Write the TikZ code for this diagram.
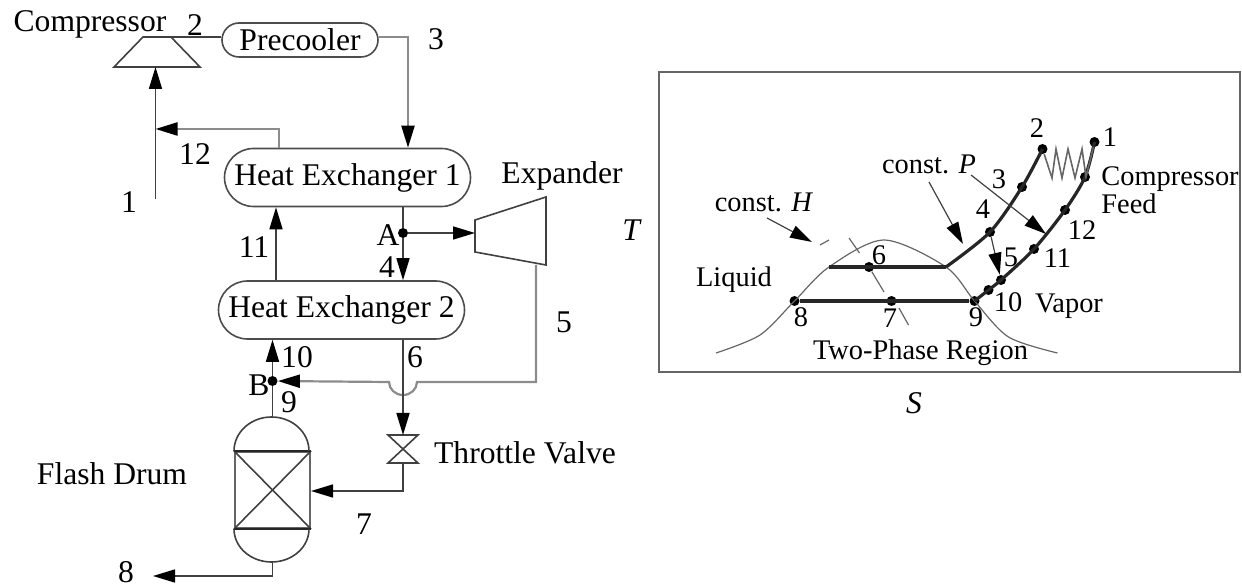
\documentclass[tikz,border=0pt]{standalone}
\usepackage{fontspec}
\setmainfont{Liberation Serif}
\usetikzlibrary{arrows.meta,shapes.misc}
\tikzstyle{hx state}=[
        draw = black!70,
        line width = .8pt,
        rounded rectangle,
        inner sep = 0pt,
        minimum width = 123pt,
        minimum height = 29pt
    ]
\tikzstyle{point state}=[
    fill = black,
    circle,
    inner sep = 0pt,
    minimum size = 5pt
]
\tikzstyle{flow}=[
    draw = black!75,
    line width = .8pt,
    -{Triangle[length=11pt,width=6.5pt,color=black,fill=black]}
]
\tikzstyle{pale flow}=[
    flow,
    draw = black!45,
    line width = 1.1pt
]

\begin{document}
\begin{tikzpicture}[x=.5pt, y=-.5pt,
        every node/.style = {font=\fontsize{15.8}{18}\selectfont, inner sep=0pt},
        line/.style = {draw=black!75, line width=.8pt},
        curve/.style = {draw=black!60, line width=.6pt},
        bold/.style = {draw=black!85, line width=1.6pt}]
        \useasboundingbox (0,0) rectangle (1242,587);

        % left: the plant
        \node[hx state, minimum width=78pt, minimum height=17pt] (pre) at (300,40) {Precooler};
        \node[hx state] (hx1) at (347.5,177.5) {Heat Exchanger 1};
        \node[hx state] (hx2) at (341.5,310) {Heat Exchanger 2};
        \node[draw=black!60, line width=1pt, minimum width=37.5pt, minimum height=38pt] (drum) at (272.5,490) {};
        \node[point state] (A) at (403,233) {};
        \node[point state] (B) at (272.5,381) {};

        \coordinate (cpin) at (155.5,67);
        \coordinate (cpout) at (171,37);
        \coordinate (feed) at (155.5,199);
        \coordinate (join) at (155.5,129);
        \coordinate (xpin) at (475,233);
        \coordinate (xpout) at (536,265);
        \coordinate (hump) at (417,382);
        \coordinate (vtop) at (403,435);
        \coordinate (vbot) at (403,463);
        \coordinate (out) at (153,576);

        \draw[line] (143,37) -- (cpout) -- (200,67) -- (114,67) -- cycle;
        \draw[line] (xpin) ++(0,-13) -- (546,197) -- (546,265) -- (475,252) -- cycle;
        \draw[line] (388,435) -- (418,435) -- (388,463) -- (418,463) -- cycle;
        \draw[line] (drum.north west) -- (drum.south east);
        \draw[line] (drum.north east) -- (drum.south west);
        \draw[bold, line width=1pt] (drum.north west) -- (drum.north east);
        \draw[bold, line width=1pt] (drum.south west) -- (drum.south east);
        \draw[line] (drum.north west) arc[start angle=180, end angle=0, x radius=18.75pt, y radius=17pt];
        \draw[line] (drum.south west) arc[start angle=180, end angle=360, x radius=18.75pt, y radius=16.5pt];

        \draw[line] (cpout) -- (cpout -| pre.west);
        \draw[pale flow] (pre.east |- cpout) -| (hx1.north -| 408,0);
        \draw[flow] (feed) -- (cpin);
        \draw[pale flow] (hx1.north -| 279,0) |- (join);
        \draw[flow] (hx2.north -| 276,0) -- (hx1.south -| 276,0);
        \draw[line] (hx1.south -| A) -- (A);
        \draw[flow] (A) -- (hx2.north -| A);
        \draw[flow] (A) -- (xpin);
        \draw[pale flow] (xpout) |- (hump) arc[start angle=0, end angle=-180, x radius=7pt, y radius=6.5pt] -- (B);
        \draw[flow] (hx2.south -| vtop) -- (vtop);
        \draw[flow] (vbot) |- (drum.east |- 0,491);
        \draw[line] (272.5,418) -- (B);
        \draw[flow] (B) -- (hx2.south -| B);
        \draw[flow] (272.5,561) |- (out);

        \node (compressor) at (90,24) {Compressor};
        \node (l2) at (195,25) {2};
        \node (l3) at (436,39) {3};
        \node (l12) at (195,154) {12};
        \node (l1) at (129,202) {1};
        \node (l11) at (254,247) {11};
        \node (lA) at (388,235) {A};
        \node (l4) at (387,267) {4};
        \node (expander) at (562,176) {Expander};
        \node (l5) at (564,322) {5};
        \node (l6) at (415,357) {6};
        \node (l10) at (297,357) {10};
        \node (lB) at (259,385) {B};
        \node (l9) at (289,402) {9};
        \node (flash) at (112,474) {Flash Drum};
        \node (throttle) at (525,453) {Throttle Valve};
        \node (l7) at (364,524) {7};
        \node (l8) at (126,572) {8};
        \node (T) at (632,230) {\textit{T}};
        \node (S) at (914,403) {\textit{S}};

        % right: the T-S chart
        \node[draw=black!60, line width=1.1pt, minimum width=290.5pt, minimum height=150pt] (chart) at (949.5,222) {};

        \begin{scope}[every node/.style = {font=\fontsize{14.2}{17}\selectfont, inner sep=0pt}]
        \node[point state] (s1) at (1094.5,142) {};
        \node[point state] (s2) at (1042.5,149) {};
        \node[point state] (s3) at (1022,187) {};
        \node[point state] (s4) at (990,232) {};
        \node[point state] (s5) at (1001,280) {};
        \node[point state] (s6) at (869,267) {};
        \node[point state] (s7) at (891.5,301) {};
        \node[point state] (s8) at (794.5,301) {};
        \node[point state] (s9) at (974.5,301) {};
        \node[point state] (s10) at (988.5,290) {};
        \node[point state] (s11) at (1034,249) {};
        \node[point state] (s12) at (1065,210) {};
        \node[point state] (sf) at (1085,177) {};
        \coordinate (sat) at (946,267);
        \coordinate (left) at (829,267);

        \draw[curve] plot[smooth] coordinates {(716,353) (760,335) (s8.center) (left) (884,240) (sat) (s9.center) (1008.5,337) (1057.5,353)};
        \draw[bold] (left) -- (sat);
        \draw[bold] (s8) -- (s9);
        \draw[bold] plot[smooth] coordinates {(sat) (s4.center) (s3.center) (s2.center)};
        \draw[bold] plot[smooth] coordinates {(s9.center) (s10.center) (s5.center) (s11.center) (s12.center) (sf.center) (s1.center)};
        \draw[curve, line width=.8pt] (s2) -- (1052,178) -- (1056,149) -- (1062,178) -- (1068,149) -- (1075,178) -- (1082,149) -- (1086,177) -- (s1);

        \draw[curve] (820,245) -- (829,240);
        \draw[curve] (849,238) -- (859.5,253);
        \draw[curve] (s6) -- (884,292);
        \draw[curve] (899,308) -- (908.5,325);

        \draw[flow, line width=.6pt] (767,218) -- (812,242);
        \draw[flow, line width=.6pt] (929,182) -- (963,244);
        \draw[flow, line width=.6pt] (971,175) -- (1046,234);
        \draw[flow, line width=.6pt] (s4) -- (s5);

        \node (r1) at (1110,137) {1};
        \node (r2) at (1037,128) {2};
        \node (r3) at (999,179) {3};
        \node (r4) at (983,209) {4};
        \node (r5) at (1011,257) {5};
        \node (r6) at (879,255) {6};
        \node (r7) at (890,318) {7};
        \node (r8) at (801,317) {8};
        \node (r9) at (976,317) {9};
        \node (r10) at (1008,302) {10};
        \node (r11) at (1057.5,258) {11};
        \node (r12) at (1082,230) {12};
        \node (constp) at (929,164) {const. \textit{P}};
        \node (consth) at (764,202) {const. \textit{H}};
        \node[anchor=west] (comp feed) at (1101,179) {Compressor};
        \node[anchor=west] (feedtxt) at (1101,204) {Feed};
        \node (liquid) at (734,280) {Liquid};
        \node (vapor) at (1069,306) {Vapor};
        \node (region) at (920.5,353) {Two-Phase Region};
        \end{scope}

    \end{tikzpicture}
\end{document}
